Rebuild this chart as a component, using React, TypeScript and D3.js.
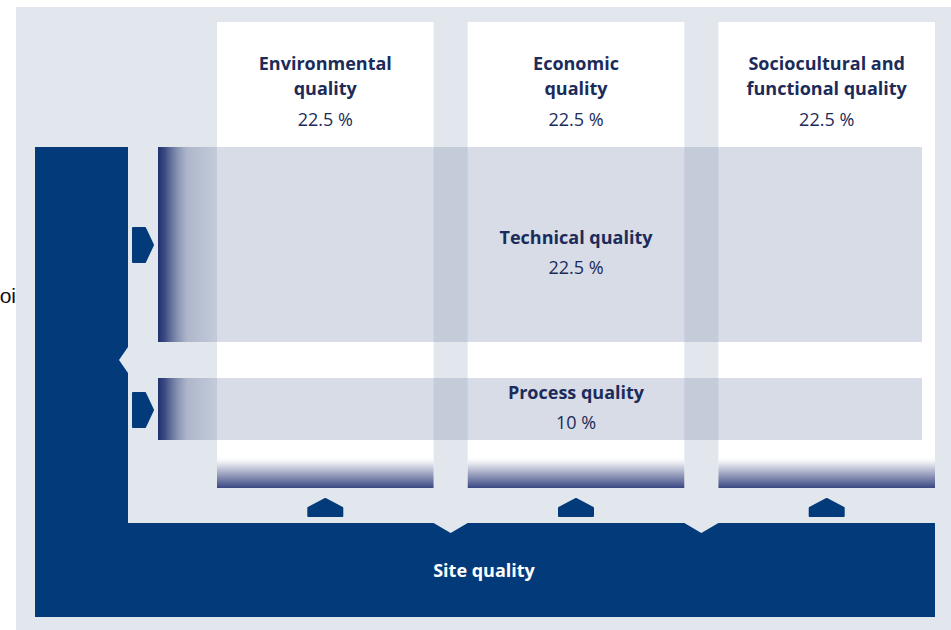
import React, { useEffect, useRef } from 'react';
import * as d3 from 'd3';

// pillars (columns) and their weights
const pillarNames = ['Environmental quality', 'Economic quality', 'Sociocultural and functional quality'];
const pillarLines = [['Environmental', 'quality'], ['Economic', 'quality'], ['Sociocultural and', 'functional quality']];
const pillarWeights = [22.5, 22.5, 22.5];

// cross-cutting bands
const bandNames = ['Technical quality', 'Process quality'];
const bandWeights = [22.5, 10];

const baseName = 'Site quality';

const NAVY = '#033b7a';
const TEXT = '#1b2b5a';
const PANEL = '#e2e7ed';

export default function App() {
  const svgRef = useRef<SVGSVGElement>(null);

  useEffect(() => {
    const svg = d3.select(svgRef.current);
    svg.selectAll('*').remove();

    const width = 951, height = 630;
    const font = '"Open Sans", "Noto Sans", sans-serif';

    // columns via band scale
    const x = d3.scaleBand<string>()
      .domain(pillarNames)
      .range([217, 935])
      .paddingInner(0.136);

    // rows
    const bandY = d3.scaleOrdinal<string, [number, number]>()
      .domain(bandNames)
      .range([[147, 342], [378, 440]]);

    const colTop = 22, colBottom = 488;
    const bandX0 = 158, bandX1 = 922;

    const defs = svg.append('defs');
    const gCol = defs.append('linearGradient').attr('id', 'colFade').attr('x1', 0).attr('y1', 0).attr('x2', 0).attr('y2', 1);
    gCol.append('stop').attr('offset', 0).attr('stop-color', '#ffffff').attr('stop-opacity', 0);
    gCol.append('stop').attr('offset', 0.25).attr('stop-color', '#e2e4ec').attr('stop-opacity', 1);
    gCol.append('stop').attr('offset', 1).attr('stop-color', '#3a4882');

    const gBand = defs.append('linearGradient').attr('id', 'bandFade').attr('x1', 0).attr('y1', 0).attr('x2', 1).attr('y2', 0);
    gBand.append('stop').attr('offset', 0).attr('stop-color', '#1f306e').attr('stop-opacity', 1);
    gBand.append('stop').attr('offset', 0.12).attr('stop-color', '#2d3f7a').attr('stop-opacity', 0.9);
    gBand.append('stop').attr('offset', 0.5).attr('stop-color', '#7d8aac').attr('stop-opacity', 0.3);
    gBand.append('stop').attr('offset', 1).attr('stop-color', '#7d8aac').attr('stop-opacity', 0);

    // stray page text left of the panel
    svg.append('text')
      .attr('x', 16).attr('y', 303)
      .attr('text-anchor', 'end')
      .attr('font-family', '"Liberation Sans", Arial, sans-serif')
      .attr('font-size', 21)
      .attr('fill', '#111')
      .text('oi');

    // panel
    svg.append('rect').attr('x', 16).attr('y', 7).attr('width', width - 16).attr('height', height - 7).attr('fill', PANEL);

    // white columns
    svg.selectAll('rect.col')
      .data(pillarNames)
      .enter()
      .append('rect')
      .attr('class', 'col')
      .attr('x', d => x(d)!)
      .attr('y', colTop)
      .attr('width', x.bandwidth())
      .attr('height', colBottom - colTop)
      .attr('fill', '#ffffff');

    svg.selectAll('rect.colfade')
      .data(pillarNames)
      .enter()
      .append('rect')
      .attr('x', d => x(d)!)
      .attr('y', 456)
      .attr('width', x.bandwidth())
      .attr('height', colBottom - 456)
      .attr('fill', 'url(#colFade)');

    // translucent bands
    const bands = svg.selectAll('g.band')
      .data(bandNames)
      .enter()
      .append('g');
    bands.append('rect')
      .attr('x', bandX0)
      .attr('y', d => bandY(d)[0])
      .attr('width', bandX1 - bandX0)
      .attr('height', d => bandY(d)[1] - bandY(d)[0])
      .attr('fill', 'rgb(125,138,172)')
      .attr('fill-opacity', 0.3);
    bands.append('rect')
      .attr('x', bandX0)
      .attr('y', d => bandY(d)[0])
      .attr('width', 60)
      .attr('height', d => bandY(d)[1] - bandY(d)[0])
      .attr('fill', 'url(#bandFade)');

    // L-shaped site bar with notches
    const vx0 = 35, vx1 = 128, vy0 = 147, hy0 = 523, hy1 = 617, hx1 = 935;
    const gaps = pillarNames.slice(1).map(d => [x(d)! - (x.step() - x.bandwidth()), x(d)!]);
    const path = d3.path();
    path.moveTo(vx0, vy0);
    path.lineTo(vx1, vy0);
    path.lineTo(vx1, 347);
    path.lineTo(119, 360);
    path.lineTo(vx1, 373);
    path.lineTo(vx1, hy0);
    gaps.forEach(([a, b]) => {
      path.lineTo(a, hy0);
      path.lineTo((a + b) / 2, hy0 + 10);
      path.lineTo(b, hy0);
    });
    path.lineTo(hx1, hy0);
    path.lineTo(hx1, hy1);
    path.lineTo(vx0, hy1);
    path.closePath();
    svg.append('path').attr('d', path.toString()).attr('fill', NAVY);

    // right-pointing arrows into bands
    const arrow = d3.line().curve(d3.curveLinearClosed);
    bands.append('path')
      .attr('d', d => {
        const mid = d === bandNames[0] ? 245 : 410;
        return arrow([[133, mid - 17], [145, mid - 17], [153, mid], [145, mid + 17], [133, mid + 17]]);
      })
      .attr('fill', NAVY)
      .attr('stroke', NAVY)
      .attr('stroke-width', 2)
      .attr('stroke-linejoin', 'round');

    // up arrows under columns
    svg.selectAll('path.up')
      .data(pillarNames)
      .enter()
      .append('path')
      .attr('d', d => {
        const cx = x(d)! + x.bandwidth() / 2;
        return arrow([[cx - 17, 516], [cx - 17, 508], [cx, 499], [cx + 17, 508], [cx + 17, 516]]);
      })
      .attr('fill', NAVY)
      .attr('stroke', NAVY)
      .attr('stroke-width', 2)
      .attr('stroke-linejoin', 'round');

    // column headers
    pillarNames.forEach((name, i) => {
      const cx = x(name)! + x.bandwidth() / 2;
      const t = svg.append('g').attr('font-family', font).attr('fill', TEXT).attr('text-anchor', 'middle');
      pillarLines[i].forEach((line, j) => {
        t.append('text').attr('x', cx).attr('y', 70 + j * 25).attr('font-size', 18).attr('font-weight', 700).text(line);
      });
      t.append('text').attr('x', cx).attr('y', 126).attr('font-size', 18).attr('font-weight', 500).text(`${pillarWeights[i]} %`);
    });

    // band labels
    const bandLabelY = [238, 393];
    bandNames.forEach((name, i) => {
      const t = svg.append('g').attr('font-family', font).attr('fill', TEXT).attr('text-anchor', 'middle');
      t.append('text').attr('x', 576).attr('y', bandLabelY[i] + 6).attr('font-size', 18).attr('font-weight', 700).text(name);
      t.append('text').attr('x', 576).attr('y', bandLabelY[i] + 36).attr('font-size', 18).attr('font-weight', 500).text(`${bandWeights[i]} %`);
    });

    svg.append('text')
      .attr('x', 484).attr('y', 577)
      .attr('text-anchor', 'middle')
      .attr('font-family', font)
      .attr('font-size', 18)
      .attr('font-weight', 700)
      .attr('fill', '#ffffff')
      .text(baseName);
  }, []);

  return (
    <div style={{ position: 'absolute', left: 0, top: 0 }}>
      <svg ref={svgRef} width={951} height={630} style={{ display: 'block' }} />
    </div>
  );
}
